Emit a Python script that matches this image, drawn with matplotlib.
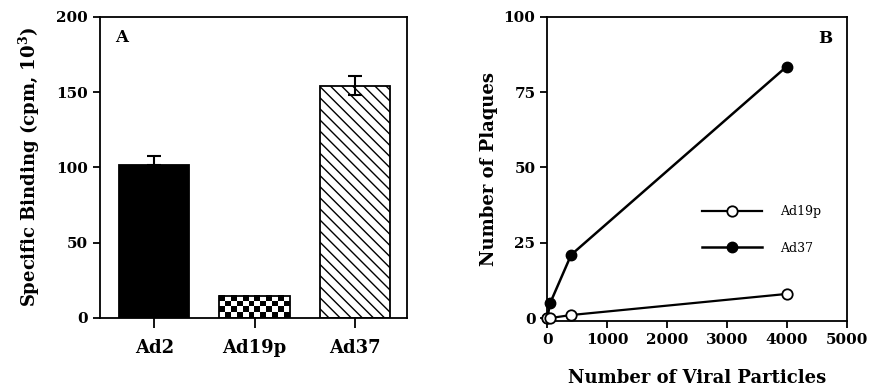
import numpy as np
import matplotlib.pyplot as plt

# ---------------------------------------------------------------------------
# Data
# ---------------------------------------------------------------------------
strains = ['Ad2', 'Ad19p', 'Ad37']
binding = [101.5, 14.8, 154.3]          # specific binding, cpm x 10^3
binding_err = [6.0, 0.0, 6.5]

particles = [0, 50, 400, 4000]
plaques_ad19p = [0, 0, 1, 8]
plaques_ad37 = [0, 5, 21, 83.5]

plt.rcParams['font.family'] = ['DejaVu Serif']
plt.rcParams['font.weight'] = 'bold'
plt.rcParams['axes.labelweight'] = 'bold'
plt.rcParams['axes.linewidth'] = 1.3
plt.rcParams['hatch.linewidth'] = 1.0

fig = plt.figure(figsize=(8.7, 3.92), dpi=100)

# ---------------------------------------------------------------------------
# Panel A: bar chart
# ---------------------------------------------------------------------------
axA = fig.add_axes([0.115, 0.189, 0.353, 0.768])
pos = np.arange(len(strains))
bars = axA.bar(pos, binding, width=0.7, color=['black', 'none', 'white'],
               edgecolor='black', linewidth=1.3, zorder=2)
bars[2].set_hatch('\\\\\\')

# checkerboard fill for Ad19p (drawn underneath the bar outline)
b = bars[1]
nrow, ncol = 4, 12
checker = (np.add.outer(np.arange(nrow), np.arange(ncol)) % 2).astype(float)
axA.imshow(checker, cmap='gray', interpolation='nearest', aspect='auto',
           extent=[b.get_x(), b.get_x() + b.get_width(), 0, b.get_height()],
           zorder=1.5)

# error bars (upper for Ad2, both for Ad37)
axA.errorbar(pos[0], binding[0], yerr=[[0], [binding_err[0]]], fmt='none',
             ecolor='black', elinewidth=1.5, capsize=5, capthick=1.5, zorder=3)
axA.errorbar(pos[2], binding[2], yerr=binding_err[2], fmt='none',
             ecolor='black', elinewidth=1.5, capsize=5, capthick=1.5, zorder=3)

axA.set_xlim(-0.54, 2.52)
axA.set_ylim(0, 200)
axA.set_yticks([0, 50, 100, 150, 200])
axA.set_xticks(pos)
axA.set_xticklabels(strains, fontsize=13)
axA.tick_params(axis='y', labelsize=11, direction='out', length=5, width=1.3)
axA.tick_params(axis='x', direction='out', length=7, width=1.3, pad=8)
axA.set_ylabel('Specific Binding (cpm, 10$^{\\mathregular{3}}$)', fontsize=13,
               labelpad=10)
axA.text(0.05, 0.93, 'A', transform=axA.transAxes, fontsize=12,
         fontweight='bold', va='center')

# ---------------------------------------------------------------------------
# Panel B: plaque counts
# ---------------------------------------------------------------------------
axB = fig.add_axes([0.629, 0.181, 0.344, 0.776])
axB.plot(particles, plaques_ad37, '-o', color='black', lw=1.8,
         ms=7.5, mfc='black', mec='black', clip_on=False, zorder=3,
         label='Ad37')
axB.plot(particles, plaques_ad19p, '-o', color='black', lw=1.6,
         ms=7.5, mfc='white', mec='black', mew=1.3, clip_on=False, zorder=4,
         label='Ad19p')

axB.set_xlim(0, 5000)
axB.set_ylim(-1, 100)
axB.set_xticks([0, 1000, 2000, 3000, 4000, 5000])
axB.set_yticks([0, 25, 50, 75, 100])
axB.tick_params(labelsize=11, direction='out', length=5, width=1.3)
axB.set_xlabel('Number of Viral Particles', fontsize=13, labelpad=16)
axB.set_ylabel('Number of Plaques', fontsize=13)
axB.text(0.93, 0.93, 'B', transform=axB.transAxes, fontsize=12,
         fontweight='bold', va='center', ha='center')

handles, labels = axB.get_legend_handles_labels()
leg = axB.legend(handles[::-1], labels[::-1], loc='center left',
                 bbox_to_anchor=(0.48, 0.30), frameon=False, handlelength=4.8,
                 labelspacing=1.9, prop={'weight': 'normal', 'size': 9},
                 handletextpad=1.4)

fig.savefig('out.png', dpi=100)
